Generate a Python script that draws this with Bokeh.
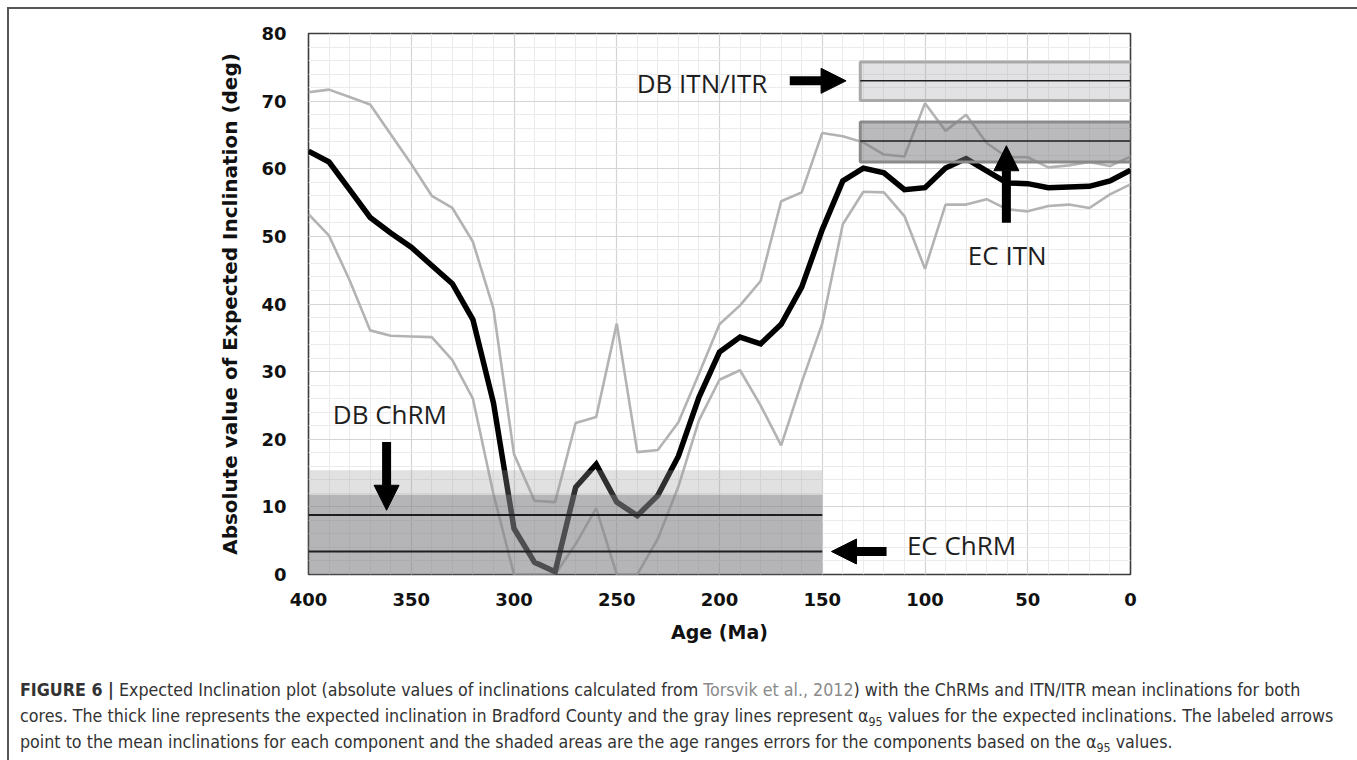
from bokeh.plotting import figure
from bokeh.models import (Range1d, FixedTicker, ColumnDataSource, Arrow, NormalHead, Div)
from bokeh.layouts import column
from bokeh.core.properties import value
from bokeh.embed import file_html
from bokeh.resources import INLINE

# Age (Ma) of each expected-inclination estimate
ages = [400, 390, 380, 370, 360, 350, 340, 330, 320, 310, 300, 290, 280, 270, 260,
        250, 240, 230, 220, 210, 200, 190, 180, 170, 160, 150, 140, 130, 120, 110,
        100, 90, 80, 70, 60, 50, 40, 30, 20, 10, 0]

# Expected inclination (absolute value, deg)
incl_mean = [62.6, 61.0, 56.9, 52.8, 50.5, 48.4, 45.7, 43.0, 37.7, 25.4, 6.8, 1.8, 0.4,
             12.9, 16.3, 10.7, 8.7, 11.7, 17.5, 26.2, 32.9, 35.1, 34.1, 37.0, 42.5, 51.0,
             58.2, 60.1, 59.4, 56.9, 57.2, 60.1, 61.5, 59.7, 57.9, 57.8, 57.2, 57.3, 57.4,
             58.2, 59.8]

# Upper and lower alpha95 envelopes
incl_upper = [71.3, 71.7, 70.6, 69.5, 65.1, 60.7, 56.0, 54.2, 49.2, 39.3, 17.8, 10.9, 10.7,
              22.4, 23.3, 37.1, 18.1, 18.4, 22.5, 29.7, 37.0, 39.8, 43.4, 55.2, 56.5, 65.3,
              64.8, 63.9, 62.1, 61.8, 69.7, 65.6, 68.0, 63.8, 61.7, 61.7, 60.2, 60.5, 61.0,
              60.4, 61.8]
incl_lower = [53.3, 50.1, 43.5, 36.1, 35.3, 35.2, 35.1, 31.7, 26.0, 11.9, 0.0, 0.0, 0.0,
              4.5, 9.8, 0.0, 0.0, 5.3, 13.0, 22.8, 28.8, 30.2, 25.0, 19.1, 28.4, 37.1,
              51.8, 56.6, 56.5, 53.0, 45.2, 54.7, 54.7, 55.5, 54.0, 53.7, 54.5, 54.7, 54.2,
              56.2, 57.7]

# Mean inclinations of the components and their alpha95 bounds (deg)
itn_names = ["DB ITN/ITR", "EC ITN"]
itn_mean = [73.0, 64.1]
itn_low = [70.1, 61.0]
itn_high = [75.8, 66.9]
itn_age_old = [131.5, 131.5]
itn_age_young = [-1.0, -1.0]

chrm_names = ["DB ChRM", "EC ChRM"]
chrm_mean = [8.8, 3.4]
chrm_low = [0.0, 0.0]
chrm_high = [15.4, 11.8]
chrm_age_old = [400.0, 400.0]
chrm_age_young = [150.0, 150.0]

x_ticks = [400, 350, 300, 250, 200, 150, 100, 50, 0]
x_minor = list(range(0, 401, 10))
y_ticks = [0, 10, 20, 30, 40, 50, 60, 70, 80]
y_minor = list(range(0, 81, 2))

AXIS_FONT = "DejaVu Sans"
NOTE_FONT = "Open Sans"

p = figure(width=1344, height=655, output_backend="svg", toolbar_location=None,
           x_range=Range1d(400, 0), y_range=Range1d(0, 80),
           min_border_left=299, min_border_right=223, min_border_top=24,
           min_border_bottom=90)
p.background_fill_color = "white"
p.border_fill_color = "white"
p.outline_line_color = "#3c3c3c"
p.outline_line_width = 1.6

p.xaxis.ticker = FixedTicker(ticks=x_ticks, minor_ticks=x_minor)
p.yaxis.ticker = FixedTicker(ticks=y_ticks, minor_ticks=y_minor)
for ax in (p.xaxis, p.yaxis):
    ax.axis_line_color = None
    ax.major_tick_line_color = None
    ax.minor_tick_line_color = None
    ax.major_label_text_font = AXIS_FONT
    ax.major_label_text_font_style = "bold"
    ax.major_label_text_font_size = "18px"
    ax.major_label_text_color = "#111111"
    ax.axis_label_text_font = AXIS_FONT
    ax.axis_label_text_font_style = "bold"
    ax.axis_label_text_color = "#111111"
p.xaxis.axis_label = "Age (Ma)"
p.yaxis.axis_label = "Absolute value of Expected Inclination (deg)"
p.xaxis.axis_label_text_font_size = "19px"
p.yaxis.axis_label_text_font_size = "20px"
p.xaxis.major_label_standoff = 12
p.yaxis.major_label_standoff = 16
p.xaxis.axis_label_standoff = 12
p.yaxis.axis_label_standoff = 16

for g in (p.xgrid, p.ygrid):
    g.grid_line_color = "#d4d4d4"
    g.grid_line_width = 1.2
    g.minor_grid_line_color = "#ebebeb"
    g.minor_grid_line_width = 1

# alpha95 envelopes and expected inclination
p.line(ages, incl_upper, line_color="#b3b3b3", line_width=2.6)
p.line(ages, incl_lower, line_color="#b3b3b3", line_width=2.6)
p.line(ages, incl_mean, line_color="#000000", line_width=5.5, line_join="miter")

# ChRM age/alpha95 shading (semi-transparent, over the curves)
chrm_src = ColumnDataSource(dict(left=chrm_age_old, right=chrm_age_young,
                                 bottom=chrm_low, top=chrm_high,
                                 color=["#9c9ca0", "#7a7a7e"], alpha=[0.3, 0.42]))
p.quad(left="left", right="right", bottom="bottom", top="top", source=chrm_src,
       fill_color="color", fill_alpha="alpha", line_color=None)
p.segment(x0=chrm_age_old, x1=chrm_age_young, y0=chrm_mean, y1=chrm_mean,
          line_color="#1e1e1e", line_width=2)

# ITN / ITR boxes
itn_src = ColumnDataSource(dict(left=itn_age_old, right=itn_age_young,
                                bottom=itn_low, top=itn_high,
                                fill=["#a0a0a4", "#76767a"], alpha=[0.3, 0.5],
                                edge=["#a9a9a9", "#8a8a8a"]))
p.quad(left="left", right="right", bottom="bottom", top="top", source=itn_src,
       fill_color="fill", fill_alpha="alpha", line_color="edge", line_width=3)
p.segment(x0=itn_age_old, x1=[0, 0], y0=itn_mean, y1=itn_mean,
          line_color="#1e1e1e", line_width=1.5)

# Labeled arrows pointing at each component's mean
arrow_x0 = [165.8, 60.4, 362.0, 118.7]
arrow_y0 = [73.0, 52.0, 19.6, 3.4]
arrow_x1 = [138.4, 60.4, 362.0, 145.5]
arrow_y1 = [73.0, 63.4, 9.5, 3.4]
for xs, ys, xe, ye in zip(arrow_x0, arrow_y0, arrow_x1, arrow_y1):
    p.add_layout(Arrow(end=NormalHead(size=25, fill_color="black", line_color="black",
                                      line_width=1),
                       x_start=xs, y_start=ys, x_end=xe, y_end=ye,
                       line_color="black", line_width=9))

label_text = ["DB ITN/ITR", "EC ITN", "DB ChRM", "EC ChRM"]
label_x = [208.5, 60.0, 360.4, 82.2]
label_y = [72.7, 47.2, 23.7, 4.4]
p.text(x=label_x, y=label_y, text=label_text, text_font=value(NOTE_FONT),
       text_font_size="26px", text_color="#1e1e1e", text_align="center",
       text_baseline="middle")

SUB = '<span style="font-size:70%;vertical-align:-0.3em;line-height:0">95</span>'
caption = Div(
    text=('<b>FIGURE 6 |</b> Expected Inclination plot (absolute values of inclinations '
          'calculated from <span style="color:#8a8a8a">Torsvik et al., 2012</span>) with the '
          'ChRMs and ITN/ITR mean inclinations for both<br>'
          'cores. The thick line represents the expected inclination in Bradford County and '
          'the gray lines represent &alpha;' + SUB + ' values for the expected '
          'inclinations. The labeled arrows<br>'
          'point to the mean inclinations for each component and the shaded areas are the '
          'age ranges errors for the components based on the &alpha;' + SUB + ' values.'),
    width=1344, height=95,
    styles={"font-family": "'Liberation Sans Narrow', 'DejaVu Sans Condensed', 'Roboto', sans-serif",
            "font-size": "17.7px", "line-height": "26px",
            "color": "#333333", "padding-left": "6px", "padding-top": "8px",
            "white-space": "nowrap"})

layout = column(p, caption, margin=(7, 0, 0, 7),
                styles={"border": "2px solid #555555", "border-bottom": "none",
                        "background": "white"})

open("out.html", "w").write(file_html(layout, INLINE))
